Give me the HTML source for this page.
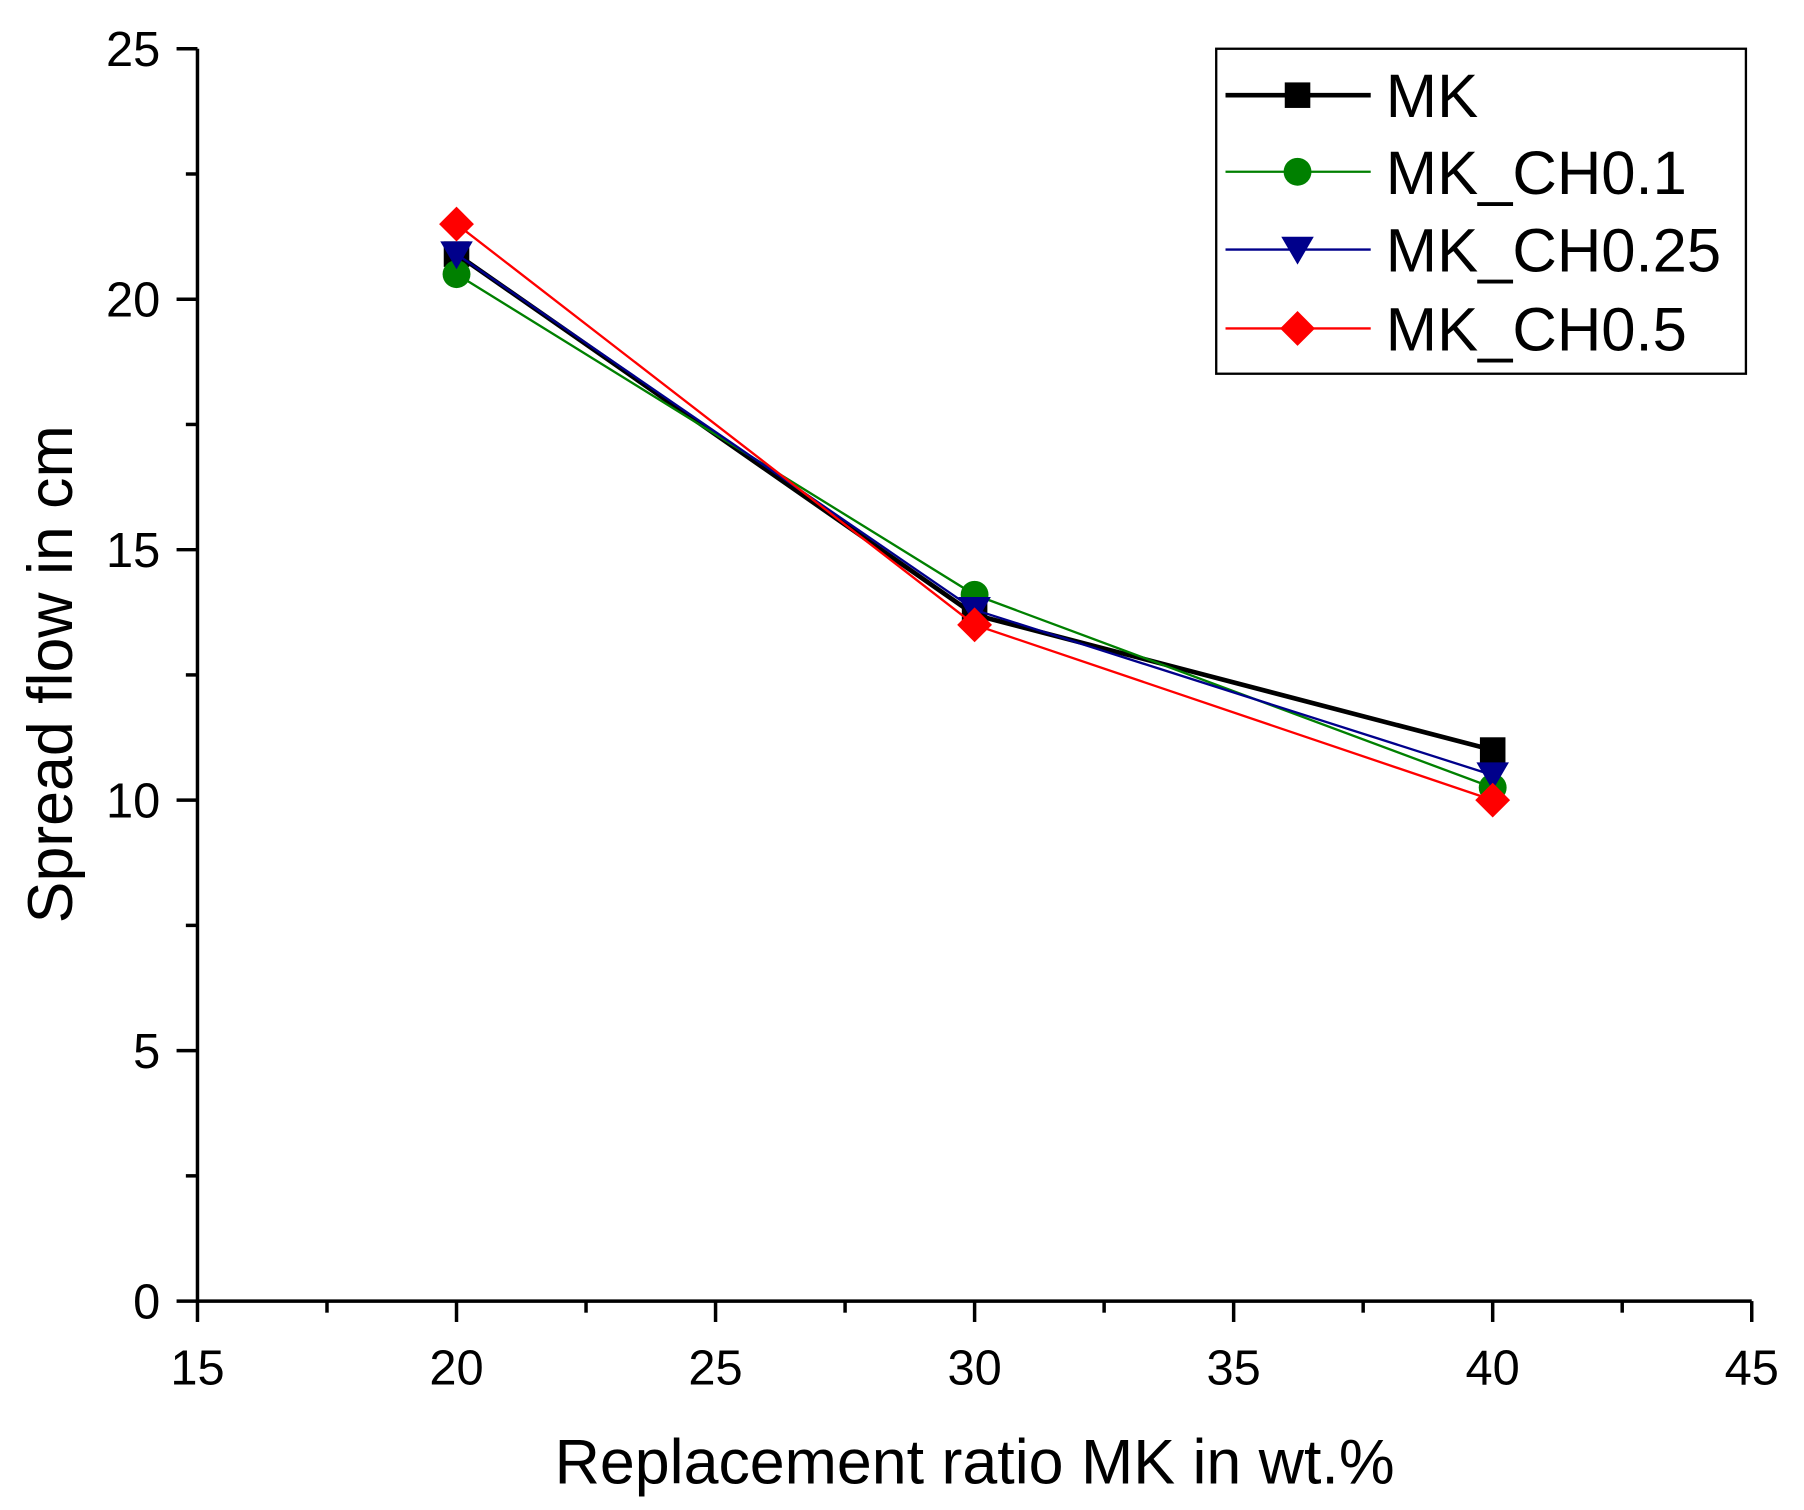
<!DOCTYPE html>
<html><head><meta charset="utf-8"><style>
html,body{margin:0;padding:0;background:#fff}
svg{display:block}
text{font-family:"Liberation Sans",Arial,sans-serif;fill:#000}
</style></head><body>
<svg id="chart" width="1804" height="1510" viewBox="0 0 1553 1301" preserveAspectRatio="none" xmlns="http://www.w3.org/2000/svg">
<g id="axes"></g>
<g id="series"></g>
<g id="legend"></g>
<text x="839" y="1278" font-size="54" text-anchor="middle">Replacement ratio MK in wt.%</text>
<text transform="translate(62,581) rotate(-90)" font-size="54" text-anchor="middle">Spread flow in cm</text>
</svg>
<script>
const categories = [20, 30, 40];
const seriesNames = ["MK", "MK_CH0.1", "MK_CH0.25", "MK_CH0.5"];
const mkValues = [20.9, 13.7, 11.0];
const ch01Values = [20.5, 14.1, 10.25];
const ch025Values = [20.9, 13.8, 10.5];
const ch05Values = [21.5, 13.5, 10.0];
const xTicks = [15, 20, 25, 30, 35, 40, 45];
const yTicks = [0, 5, 10, 15, 20, 25];

const NS = "http://www.w3.org/2000/svg";
const X0 = 170, X1 = 1508, Y0 = 1121, Y1 = 42;
const xs = v => X0 + (v - 15) / 30 * (X1 - X0);
const ys = v => Y0 - v / 25 * (Y0 - Y1);
function mk(tag, attrs, parent) {
  const e = document.createElementNS(NS, tag);
  for (const k in attrs) e.setAttribute(k, attrs[k]);
  parent.appendChild(e);
  return e;
}
const axes = document.getElementById("axes");
let a = mk("line", {x1: X0, y1: Y0, x2: X1, y2: Y0, stroke: "#000", "stroke-width": 3}, axes);


a = mk("line", {x1: X0, y1: Y0 + 1.5, x2: X0, y2: Y1, stroke: "#000", "stroke-width": 3}, axes);


for (let i = 0; i < xTicks.length; i++) {
  const x = xs(xTicks[i]);
  mk("line", {x1: x, y1: Y0, x2: x, y2: Y0 + 18, stroke: "#000", "stroke-width": 3}, axes);
  if (i < xTicks.length - 1) {
    const xm = xs(xTicks[i] + 2.5);
    mk("line", {x1: xm, y1: Y0, x2: xm, y2: Y0 + 10, stroke: "#000", "stroke-width": 3}, axes);
  }
  const t = mk("text", {x: x, y: Y0 + 72, "font-size": 42, "text-anchor": "middle"}, axes);
  t.textContent = xTicks[i];
  
  
}
for (let i = 0; i < yTicks.length; i++) {
  const y = ys(yTicks[i]);
  mk("line", {x1: X0 - 18, y1: y, x2: X0, y2: y, stroke: "#000", "stroke-width": 3}, axes);
  if (i < yTicks.length - 1) {
    const ym = ys(yTicks[i] + 2.5);
    mk("line", {x1: X0 - 10, y1: ym, x2: X0, y2: ym, stroke: "#000", "stroke-width": 3}, axes);
  }
  const t = mk("text", {x: X0 - 32, y: y + 15, "font-size": 42, "text-anchor": "end"}, axes);
  t.textContent = yTicks[i];
  
  
}
const allValues = [mkValues, ch01Values, ch025Values, ch05Values];
const colors = ["#000000", "#008000", "#00008b", "#ff0000"];
const widths = [4, 2, 2, 2];
const shapes = ["square", "circle", "triangle", "diamond"];
function marker(shape, x, y, color, parent) {
  let e;
  if (shape === "square") e = mk("rect", {x: x - 11, y: y - 11, width: 22, height: 22, fill: color}, parent);
  else if (shape === "circle") e = mk("circle", {cx: x, cy: y, r: 12, fill: color}, parent);
  else if (shape === "triangle") e = mk("polygon", {points: `${x-14},${y-11} ${x+14},${y-11} ${x},${y+13}`, fill: color}, parent);
  else e = mk("polygon", {points: `${x},${y-15} ${x+15},${y} ${x},${y+15} ${x-15},${y}`, fill: color}, parent);
  return e;
}
const series = document.getElementById("series");
for (let s = 0; s < allValues.length; s++) {
  const g = mk("g", {}, series);
  
  
  const pts = categories.map((c, i) => xs(c) + "," + ys(allValues[s][i])).join(" ");
  const l = mk("polyline", {points: pts, fill: "none", stroke: colors[s], "stroke-width": widths[s]}, g);
  
  
  categories.forEach((c, i) => {
    const m = marker(shapes[s], xs(c), ys(allValues[s][i]), colors[s], g);
    
    
  });
}
const legend = document.getElementById("legend");
const box = mk("rect", {x: 1047, y: 42, width: 456, height: 280, fill: "#fff", stroke: "#000", "stroke-width": 2}, legend);


const legY = [82, 148, 215, 283];
for (let s = 0; s < seriesNames.length; s++) {
  const g = mk("g", {}, legend);
  
  
  mk("line", {x1: 1055, y1: legY[s], x2: 1180, y2: legY[s], stroke: colors[s], "stroke-width": widths[s]}, g);
  marker(shapes[s], 1117, legY[s], colors[s], g);
  const t = mk("text", {x: 1193, y: legY[s] + 19, "font-size": 53}, g);
  t.textContent = seriesNames[s];
}
</script>
</body></html>
